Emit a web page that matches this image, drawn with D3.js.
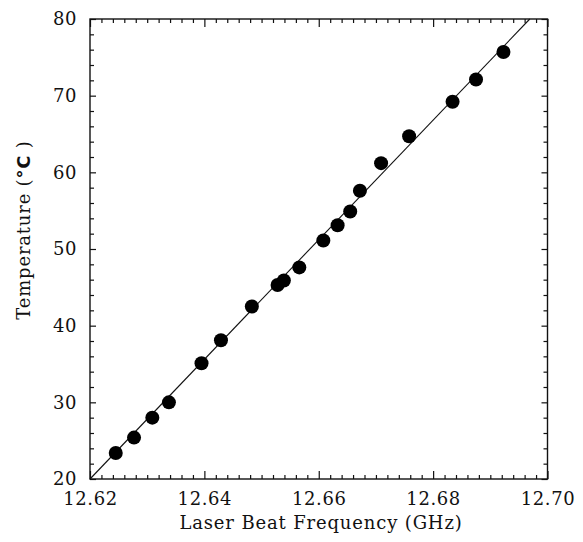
<!DOCTYPE html>
<html>
<head>
<meta charset="utf-8">
<script src="https://cdn.jsdelivr.net/npm/d3@7"></script>
<style>
  html, body { margin: 0; padding: 0; background: #fff; }
  svg { display: block; }
  text { font-family: "DejaVu Serif", serif; fill: #111; }
</style>
</head>
<body>
<script>
// Data
const frequency = [12.6245, 12.6277, 12.6309, 12.6338, 12.6395, 12.6429, 12.6483,
  12.6528, 12.6539, 12.6566, 12.6608, 12.6633, 12.6655, 12.6672, 12.6709,
  12.6758, 12.6834, 12.6875, 12.6923];
const temperature = [23.4, 25.4, 28.0, 30.0, 35.1, 38.1, 42.5,
  45.3, 45.9, 47.6, 51.1, 53.1, 54.9, 57.6, 61.2,
  64.7, 69.2, 72.1, 75.7];
const fitFrequency = [12.62, 12.6969];
const fitTemperature = [20, 80];
const xTicks = [12.62, 12.64, 12.66, 12.68, 12.70];
const yTicks = [20, 30, 40, 50, 60, 70, 80];
const xTitle = "Laser Beat Frequency (GHz)";
const yTitle = "Temperature (";

const W = 583, H = 542;
const m = { left: 90, right: 547.5, top: 19, bottom: 479 };

const svg = d3.select("body").append("svg").attr("width", W).attr("height", H);

const x = d3.scaleLinear().domain([12.62, 12.70]).range([m.left, m.right]);
const y = d3.scaleLinear().domain([20, 80]).range([m.bottom, m.top]);

const xMinor = d3.range(12.62, 12.7001, 0.002).filter(v => Math.abs(Math.round(v / 0.02) * 0.02 - v) > 1e-6);
const yMinor = d3.range(20, 80.01, 2).filter(v => v % 10 !== 0);

const g = svg.append("g");

function styleAxis(sel) {
  sel.select(".domain").remove();
  sel.selectAll("line").attr("stroke", "#111").attr("stroke-width", 1.2);
}
function styleLabels(sel) {
  sel.selectAll("text").attr("font-size", 18).attr("letter-spacing", 0.6)
    .attr("font-family", "DejaVu Serif").attr("fill", "#111");
}

// bottom axis (ticks inward)
g.append("g").attr("transform", `translate(0,${m.bottom})`)
  .call(d3.axisBottom(x).tickValues(xTicks).tickSize(-8).tickFormat(d3.format(".2f")).tickPadding(13))
  .call(styleAxis).call(styleLabels);
g.append("g").attr("transform", `translate(0,${m.bottom})`)
  .call(d3.axisBottom(x).tickValues(xMinor).tickSize(-4).tickFormat(""))
  .call(styleAxis);
// top axis
g.append("g").attr("transform", `translate(0,${m.top})`)
  .call(d3.axisTop(x).tickValues(xTicks).tickSize(-8).tickFormat(""))
  .call(styleAxis);
g.append("g").attr("transform", `translate(0,${m.top})`)
  .call(d3.axisTop(x).tickValues(xMinor).tickSize(-4).tickFormat(""))
  .call(styleAxis);
// left axis
g.append("g").attr("transform", `translate(${m.left},0)`)
  .call(d3.axisLeft(y).tickValues(yTicks).tickSize(-6).tickPadding(13))
  .call(styleAxis).call(styleLabels);
g.append("g").attr("transform", `translate(${m.left},0)`)
  .call(d3.axisLeft(y).tickValues(yMinor).tickSize(-4).tickFormat(""))
  .call(styleAxis);
// right axis
g.append("g").attr("transform", `translate(${m.right},0)`)
  .call(d3.axisRight(y).tickValues(yTicks).tickSize(-6).tickFormat(""))
  .call(styleAxis);
g.append("g").attr("transform", `translate(${m.right},0)`)
  .call(d3.axisRight(y).tickValues(yMinor).tickSize(-4).tickFormat(""))
  .call(styleAxis);

// frame
svg.append("rect")
  .attr("x", m.left).attr("y", m.top)
  .attr("width", m.right - m.left).attr("height", m.bottom - m.top)
  .attr("fill", "none").attr("stroke", "#111").attr("stroke-width", 1.4);

// fit line
const fit = fitFrequency.map((f, i) => [f, fitTemperature[i]]);
svg.append("path")
  .attr("d", d3.line().x(d => x(d[0])).y(d => y(d[1]))(fit))
  .attr("fill", "none").attr("stroke", "#111").attr("stroke-width", 1.1);

// points
svg.append("g").selectAll("circle")
  .data(frequency.map((f, i) => [f, temperature[i]]))
  .join("circle")
  .attr("cx", d => x(d[0])).attr("cy", d => y(d[1]))
  .attr("r", 7).attr("fill", "#000");

// titles
svg.append("text")
  .attr("x", 321).attr("y", 529)
  .attr("text-anchor", "middle").attr("font-size", 18).attr("letter-spacing", 0.85)
  .text(xTitle);

const yt = svg.append("text")
  .attr("transform", "translate(30,230) rotate(-90)")
  .attr("text-anchor", "middle").attr("font-size", 18).attr("letter-spacing", 0.8);
yt.append("tspan").text(yTitle);
yt.append("tspan").attr("font-family", "DejaVu Sans").attr("font-weight", "bold").text("°C");
yt.append("tspan").text(" )");
</script>
</body>
</html>
